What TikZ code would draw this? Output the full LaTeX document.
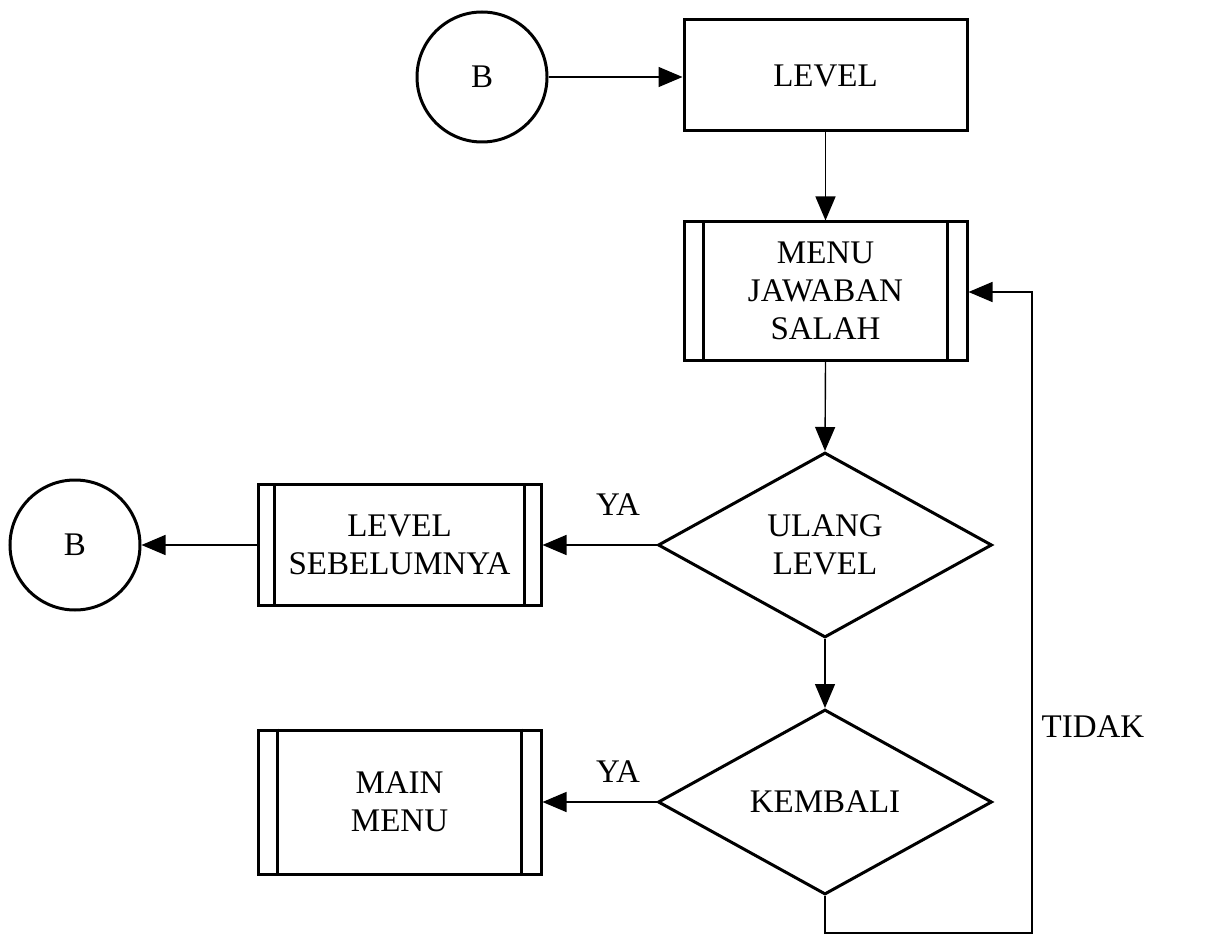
\documentclass[tikz,border=0pt]{standalone}
\usepackage{fontspec}
\setmainfont{Liberation Serif}
\usetikzlibrary{arrows.meta,shapes.geometric}
\begin{document}
\begin{tikzpicture}[x=0.5pt,y=-0.5pt,
  every node/.style={font=\fontsize{16.5}{19}\selectfont, align=center, inner sep=0pt},
  boxline/.style={line width=1.5pt},
  conn/.style={line width=0.7pt, -{Triangle[length=12pt,width=10pt]}},
  procbox/.style={boxline, draw, rectangle, minimum width=141.5pt},
  termc/.style={boxline, draw, circle, minimum size=65pt},
  decide/.style={boxline, draw, diamond, minimum width=167pt, minimum height=92.5pt},
  lbl/.style={font=\fontsize{16.5}{19}\selectfont}
]
\useasboundingbox (0,0) rectangle (1225,941);

\node[termc] (b1) at (482,77) {B};
\node[procbox, minimum height=55.5pt] (level) at (825.5,75.5) {LEVEL};
\node[procbox, minimum height=69pt] (menu) at (825.5,291) {MENU\\JAWABAN\\SALAH};
\draw[boxline] ([xshift=10.5pt]menu.north west) -- ([xshift=10.5pt]menu.south west);
\draw[boxline] ([xshift=-10.5pt]menu.north east) -- ([xshift=-10.5pt]menu.south east);

\node[decide] (ulang) at (825,545) {ULANG\\LEVEL};
\node[procbox, minimum height=60.5pt] (sebel) at (399.5,545) {LEVEL\\SEBELUMNYA};
\draw[boxline] ([xshift=9pt]sebel.north west) -- ([xshift=9pt]sebel.south west);
\draw[boxline] ([xshift=-9pt]sebel.north east) -- ([xshift=-9pt]sebel.south east);
\node[termc] (b2) at (75,545) {B};

\node[decide] (kembali) at (825,802) {KEMBALI};
\node[procbox, minimum height=72pt] (main) at (399.5,802) {MAIN\\MENU};
\draw[boxline] ([xshift=10.5pt]main.north west) -- ([xshift=10.5pt]main.south west);
\draw[boxline] ([xshift=-10.5pt]main.north east) -- ([xshift=-10.5pt]main.south east);

\coordinate (c1) at (825,933);
\coordinate (c2) at (1032,933);
\coordinate (c3) at (1032,292);

\draw[conn] (b1.east) -- (b1.east -| level.west);
\draw[conn] (level.south) -- (level.south |- menu.north);
\draw[conn] (menu.south) -- (ulang.north);
\draw[conn] (ulang.west) -- (sebel.east);
\node[lbl] (ya1) at (618,505) {YA};
\draw[conn] (sebel.west) -- (b2.east);
\draw[conn] (ulang.south) -- (kembali.north);
\draw[conn] (kembali.west) -- (main.east);
\node[lbl] (ya2) at (618,772) {YA};
\draw[conn] (kembali.south) -- (c1) -- (c2) -- (c3) -- (menu.east |- c3);
\node[lbl] (tidak) at (1093,727) {TIDAK};
\end{tikzpicture}
\end{document}
